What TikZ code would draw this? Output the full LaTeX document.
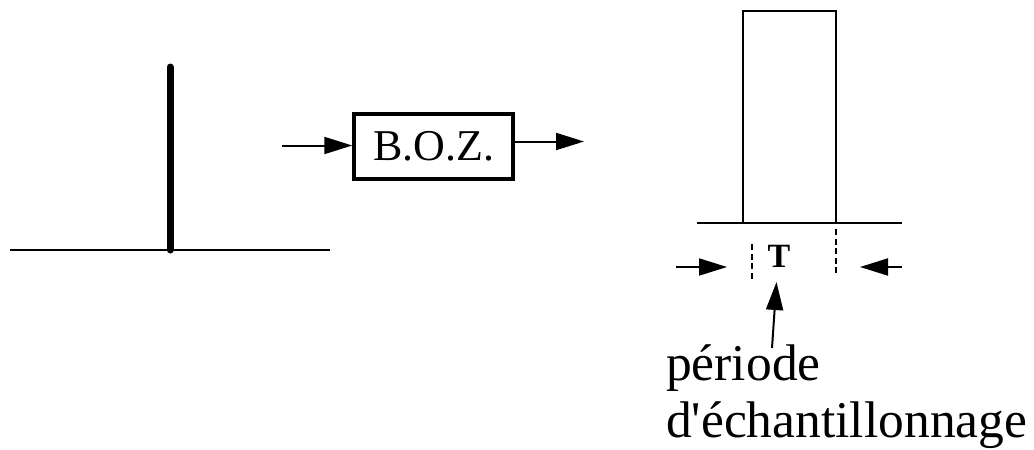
\documentclass[tikz,border=0pt]{standalone}
\usepackage{fontspec}
\setmainfont{Liberation Serif}[Ligatures=TeXOff]
\usetikzlibrary{arrows.meta}
\tikzset{
  tip/.style={-{Triangle[length=28pt,width=17pt]}},
  thinline/.style={line width=2pt},
  dashline/.style={line width=1.8pt, dash pattern=on 6pt off 3.5pt},
  boxstyle/.style={draw, line width=3.5pt, minimum width=159pt, minimum height=65pt, inner sep=0pt, font=\fontsize{44}{44}\selectfont},
  lbl/.style={inner sep=0pt, font=\fontsize{51.5}{59}\selectfont, anchor=base west}
}
\begin{document}
\begin{tikzpicture}[x=1pt,y=-1pt]
\useasboundingbox (0,0) rectangle (1034,450);
% left impulse
\coordinate (la) at (10,250);
\coordinate (lb) at (330,250);
\coordinate (ib) at (170,250);
\coordinate (it) at (170,67);
\draw[thinline] (la) -- (lb);
\draw[line width=7pt, line cap=round] (ib) -- (it);
% block
\node[boxstyle] (boz) at (433.5,146.5) {B.O.Z.};
\coordinate (in) at (282,145.5);
\coordinate (out) at (584,141.5);
\draw[thinline, tip] (in) -- (boz.west |- in);
\draw[thinline, tip] (boz.east |- out) -- (out);
% pulse
\coordinate (ra) at (697,223);
\coordinate (rb) at (902,223);
\coordinate (p1) at (743,223);
\coordinate (p2) at (743,11);
\coordinate (p3) at (836,11);
\coordinate (p4) at (836,223);
\draw[thinline] (ra) -- (rb);
\draw[thinline] (p1) -- (p2) -- (p3) -- (p4);
% dashed markers
\coordinate (d1a) at (752,244);
\coordinate (d1b) at (752,279);
\coordinate (d2a) at (836,229);
\coordinate (d2b) at (836,276);
\draw[dashline] (d1a) -- (d1b);
\draw[dashline] (d2a) -- (d2b);
% T label
\node[inner sep=0pt, font=\fontsize{34}{34}\selectfont\bfseries] (T) at (779,256) {T};
% dimension arrows
\coordinate (al) at (676,267);
\coordinate (alt) at (727,267);
\coordinate (ar) at (902,267);
\coordinate (art) at (860,267);
\draw[thinline, tip] (al) -- (alt);
\draw[thinline, tip] (ar) -- (art);
% period label
\node[lbl] (per1) at (666,380) {période};
\node[lbl] (per2) at (666,437) {d'échantillonnage};
\coordinate (up) at (776.5,282);
\coordinate (ub) at (772,348);
\draw[thinline, tip] (ub) -- (up);
\end{tikzpicture}
\end{document}
